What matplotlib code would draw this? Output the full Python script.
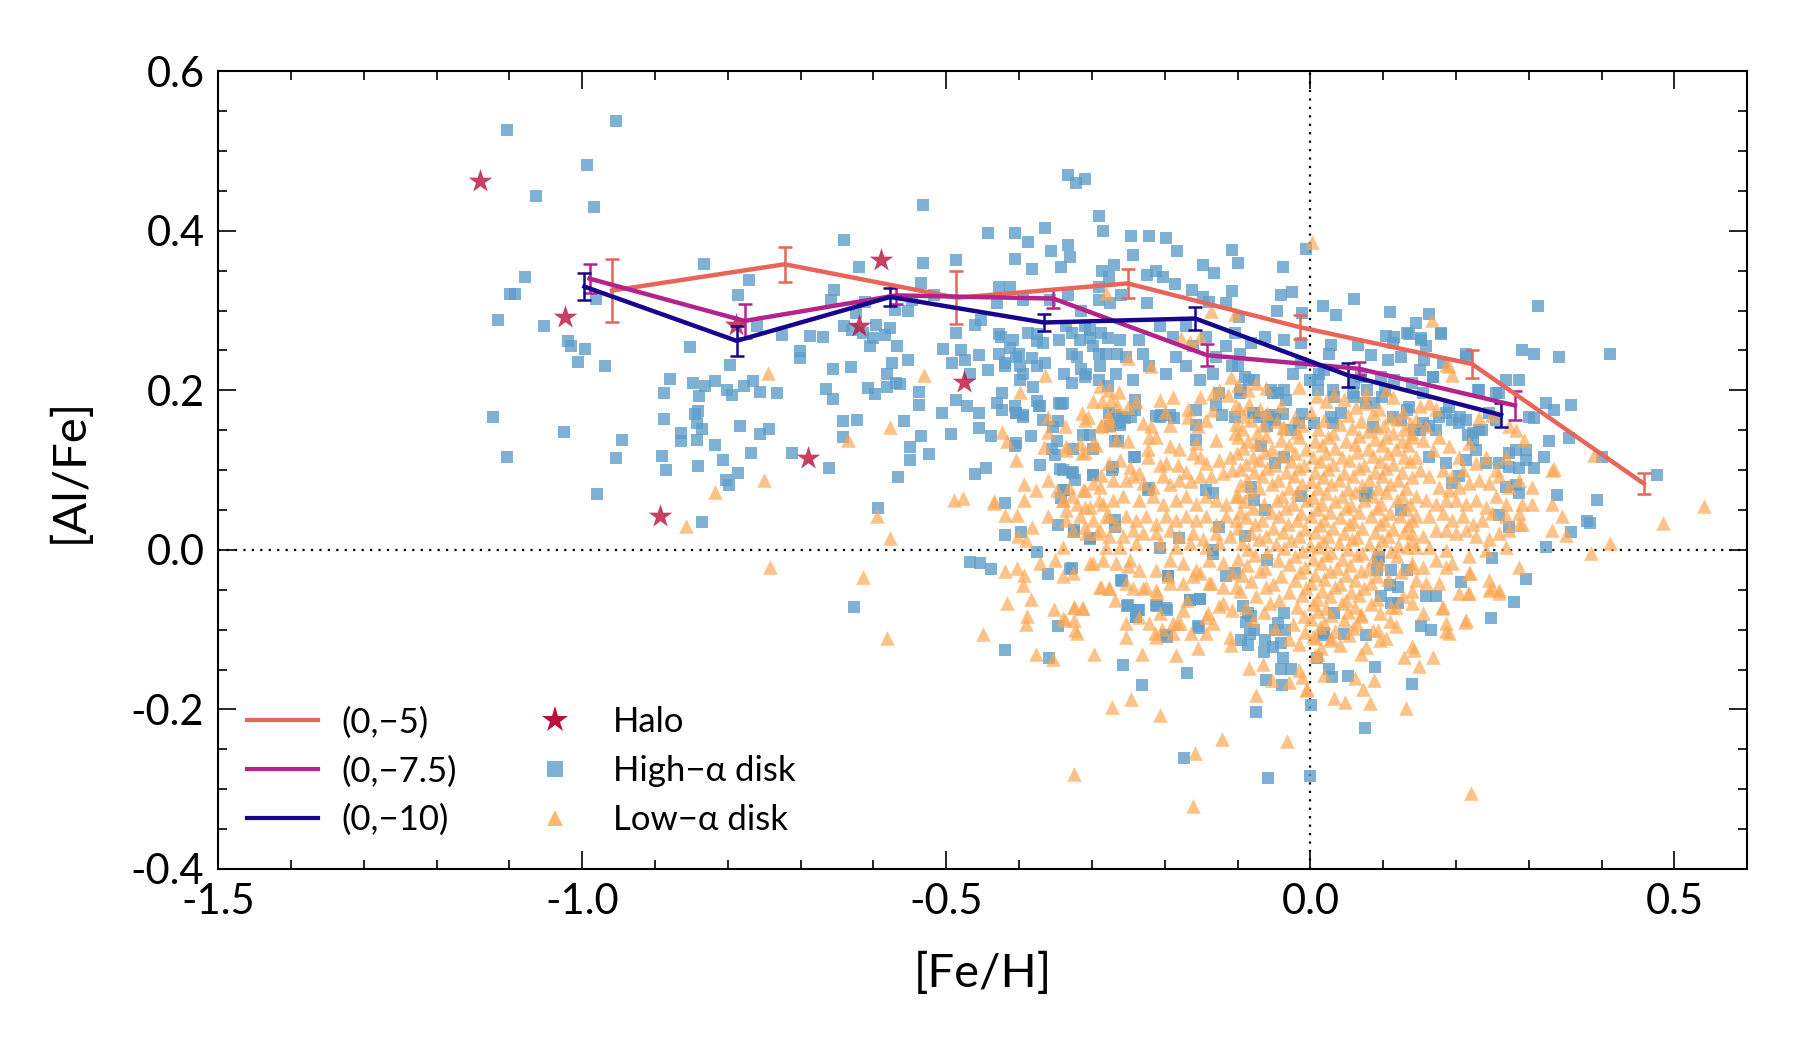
import matplotlib
matplotlib.use('Agg')
import matplotlib.pyplot as plt
from matplotlib.lines import Line2D
from matplotlib.ticker import MultipleLocator, FormatStrFormatter

plt.rcParams['font.family'] = ['Lato', 'DejaVu Sans']
plt.rcParams['axes.unicode_minus'] = False

# trend lines: [Fe/H] bin centres, mean [Al/Fe] and error, for each cut
feh_5 = [-0.959, -0.722, -0.486, -0.251, -0.014, 0.222, 0.458]
alfe_5 = [0.325, 0.358, 0.316, 0.334, 0.279, 0.233, 0.083]
err_5 = [0.039, 0.022, 0.033, 0.018, 0.015, 0.018, 0.013]

feh_75 = [-0.990, -0.777, -0.569, -0.353, -0.142, 0.067, 0.281]
alfe_75 = [0.340, 0.287, 0.319, 0.315, 0.244, 0.227, 0.181]
err_75 = [0.018, 0.021, 0.011, 0.012, 0.014, 0.008, 0.018]

feh_10 = [-0.997, -0.788, -0.577, -0.366, -0.158, 0.051, 0.262]
alfe_10 = [0.330, 0.262, 0.317, 0.285, 0.290, 0.219, 0.169]
err_10 = [0.017, 0.019, 0.011, 0.011, 0.014, 0.015, 0.015]

# halo stars
halo_feh = [-1.140, -1.023, -0.893, -0.789, -0.690, -0.620, -0.589, -0.476]
halo_alfe = [0.462, 0.292, 0.042, 0.282, 0.115, 0.281, 0.363, 0.210]

# high-alpha disk stars ([Fe/H], [Al/Fe])
high_alpha = [
    (-1.104, 0.526), (-0.953, 0.538), (-0.993, 0.482), (-1.064, 0.444), (-0.984, 0.430),
    (-1.078, 0.342), (-1.099, 0.321), (-1.092, 0.321), (-1.116, 0.288), (-1.052, 0.281),
    (-1.019, 0.262), (-1.015, 0.256), (-0.996, 0.252), (-1.006, 0.235), (-0.969, 0.230),
    (-0.981, 0.314), (-1.123, 0.166), (-1.103, 0.116), (-1.025, 0.148), (-0.945, 0.138),
    (-0.953, 0.115), (-0.980, 0.070),
    (-0.833, 0.358), (-0.771, 0.338), (-0.786, 0.319), (-0.852, 0.254), (-0.760, 0.280),
    (-0.726, 0.269), (-0.701, 0.249), (-0.701, 0.240), (-0.687, 0.268), (-0.797, 0.232),
    (-0.880, 0.214), (-0.888, 0.196), (-0.848, 0.209), (-0.832, 0.205), (-0.817, 0.212),
    (-0.839, 0.193), (-0.801, 0.201), (-0.794, 0.194), (-0.778, 0.206), (-0.765, 0.212),
    (-0.756, 0.198), (-0.732, 0.196), (-0.841, 0.174), (-0.845, 0.170), (-0.888, 0.164),
    (-0.865, 0.146), (-0.865, 0.136), (-0.843, 0.159), (-0.835, 0.151), (-0.842, 0.138),
    (-0.891, 0.118), (-0.885, 0.100), (-0.841, 0.105), (-0.806, 0.113), (-0.817, 0.132),
    (-0.784, 0.155), (-0.756, 0.145), (-0.743, 0.152), (-0.768, 0.122), (-0.803, 0.088),
    (-0.799, 0.081), (-0.786, 0.096), (-0.835, 0.035), (-0.712, 0.122), (-0.669, 0.267),
    (-0.661, 0.103), (-0.642, 0.161), (-0.622, 0.163), (-0.642, 0.142), (-0.558, 0.162),
    (-0.537, 0.198), (-0.537, 0.181), (-0.550, 0.129), (-0.550, 0.113), (-0.535, 0.143),
    (-0.524, 0.120), (-0.567, 0.091), (-0.594, 0.053), (-0.627, -0.071), (-0.506, 0.172),
    (-0.493, 0.145), (-0.471, 0.180), (-0.455, 0.153), (-0.446, 0.103), (-0.461, 0.095),
    (-0.438, 0.143), (-0.468, -0.015), (-0.454, -0.016), (-0.438, -0.024), (-0.665, 0.202),
    (-0.655, 0.189), (-0.608, 0.203), (-0.598, 0.195), (-0.582, 0.204), (-0.564, 0.208),
    (-0.532, 0.432), (-0.640, 0.388), (-0.620, 0.355), (-0.532, 0.359), (-0.487, 0.363),
    (-0.654, 0.326), (-0.658, 0.313), (-0.624, 0.297), (-0.611, 0.311), (-0.640, 0.280),
    (-0.630, 0.275), (-0.614, 0.272), (-0.600, 0.265), (-0.605, 0.255), (-0.597, 0.282),
    (-0.578, 0.278), (-0.584, 0.269), (-0.568, 0.255), (-0.571, 0.301), (-0.553, 0.299),
    (-0.547, 0.313), (-0.535, 0.334), (-0.517, 0.319), (-0.655, 0.227), (-0.631, 0.229),
    (-0.553, 0.238), (-0.574, 0.234), (-0.569, 0.209), (-0.581, 0.221),
    (-0.505, 0.252), (-0.492, 0.234), (-0.480, 0.251), (-0.486, 0.272), (-0.474, 0.238),
    (-0.468, 0.221), (-0.455, 0.244), (-0.443, 0.226), (-0.486, 0.188), (-0.455, 0.171),
    (-0.443, 0.397), (-0.405, 0.397), (-0.388, 0.386), (-0.365, 0.404), (-0.333, 0.382),
    (-0.356, 0.374), (-0.290, 0.419), (-0.285, 0.400), (-0.342, 0.355), (-0.330, 0.367),
    (-0.405, 0.364), (-0.382, 0.352), (-0.270, 0.357), (-0.286, 0.349),
    (-0.461, 0.282), (-0.452, 0.288), (-0.431, 0.309), (-0.413, 0.330), (-0.394, 0.313),
    (-0.425, 0.267), (-0.413, 0.253), (-0.400, 0.246), (-0.388, 0.272), (-0.376, 0.262),
    (-0.419, 0.234), (-0.394, 0.221), (-0.382, 0.240), (-0.364, 0.234),
    (-0.345, 0.263), (-0.327, 0.246), (-0.339, 0.221), (-0.315, 0.227), (-0.290, 0.246),
    (-0.278, 0.265), (-0.266, 0.246), (-0.357, 0.313), (-0.333, 0.320), (-0.315, 0.299),
    (-0.290, 0.313), (-0.275, 0.309), (-0.260, 0.320), (-0.327, 0.272), (-0.309, 0.280),
    (-0.287, 0.272), (-0.302, 0.265), (-0.309, 0.217), (-0.290, 0.213), (-0.327, 0.209),
    (-0.278, 0.205), (-0.431, 0.184), (-0.406, 0.180), (-0.376, 0.186), (-0.345, 0.184),
    (-0.406, 0.130),
    (-0.333, 0.470), (-0.322, 0.460), (-0.310, 0.465),
    (-0.246, 0.393), (-0.222, 0.394), (-0.198, 0.391), (-0.183, 0.375), (-0.244, 0.370),
    (-0.147, 0.357), (-0.132, 0.347), (-0.108, 0.376), (-0.099, 0.360), (-0.037, 0.354),
    (-0.006, 0.377), (-0.276, 0.342), (-0.290, 0.329),
    (-0.224, 0.344), (-0.212, 0.349), (-0.203, 0.342), (-0.186, 0.333), (-0.224, 0.309),
    (-0.162, 0.326), (-0.147, 0.317), (-0.139, 0.311), (-0.107, 0.324), (-0.116, 0.309),
    (-0.098, 0.292), (-0.046, 0.300), (-0.040, 0.319), (-0.025, 0.323), (-0.011, 0.297),
    (0.017, 0.306), (0.035, 0.294), (0.060, 0.314), (0.109, 0.298),
    (0.145, 0.284), (0.163, 0.296), (0.179, 0.271), (0.168, 0.217), (0.104, 0.268),
    (0.113, 0.259), (0.136, 0.271), (0.152, 0.263), (0.214, 0.242), (0.232, 0.200),
    (0.255, 0.196), (0.246, 0.171), (0.205, 0.167), (0.223, 0.146),
    (-0.427, 0.330), (-0.427, 0.271), (-0.408, 0.263), (-0.376, 0.271), (-0.367, 0.259),
    (-0.427, 0.246), (-0.404, 0.242), (-0.420, 0.230), (-0.399, 0.230), (-0.376, 0.230),
    (-0.424, 0.196), (-0.399, 0.213), (-0.381, 0.204), (-0.372, 0.180), (-0.404, 0.171),
    (-0.395, 0.167), (-0.367, 0.163), (-0.354, 0.154),
    (-0.335, 0.280), (-0.317, 0.263), (-0.303, 0.276), (-0.299, 0.255), (-0.321, 0.242),
    (-0.308, 0.221), (-0.289, 0.230), (-0.280, 0.246), (-0.262, 0.263), (-0.253, 0.242),
    (-0.267, 0.221), (-0.244, 0.213), (-0.230, 0.246), (-0.235, 0.263), (-0.221, 0.230),
    (-0.207, 0.280), (-0.189, 0.267), (-0.184, 0.242), (-0.198, 0.221), (-0.171, 0.230),
    (-0.161, 0.255), (-0.171, 0.280), (-0.152, 0.213), (-0.143, 0.267), (-0.129, 0.242),
    (-0.116, 0.255), (-0.107, 0.230), (-0.097, 0.246), (-0.084, 0.213), (-0.134, 0.221),
    (-0.125, 0.196), (-0.097, 0.196), (-0.079, 0.171), (-0.052, 0.196), (-0.033, 0.188),
    (-0.024, 0.221), (-0.001, 0.213), (0.012, 0.221), (0.026, 0.246), (0.031, 0.200),
    (0.058, 0.196), (0.076, 0.184), (0.099, 0.192), (0.113, 0.167), (0.136, 0.179),
    (0.154, 0.196), (0.177, 0.167), (0.191, 0.179), (0.214, 0.163), (0.232, 0.150),
    (-0.052, 0.167), (-0.015, 0.159), (0.031, 0.159), (0.086, 0.154), (0.150, 0.150),
    (-0.423, 0.175), (-0.404, 0.171), (-0.395, 0.169), (-0.404, 0.134), (-0.384, 0.143),
    (-0.373, 0.180), (-0.342, 0.183), (-0.347, 0.162), (-0.348, 0.136), (-0.355, 0.127),
    (-0.351, 0.119), (-0.371, 0.106), (-0.344, 0.101), (-0.327, 0.098), (-0.323, 0.088),
    (-0.298, 0.094), (-0.339, 0.075), (-0.342, 0.065), (-0.420, 0.059), (-0.420, 0.019),
    (-0.398, 0.023), (-0.347, 0.031), (-0.325, 0.023), (-0.303, 0.013), (-0.375, -0.003),
    (-0.361, -0.030), (-0.330, -0.024), (-0.420, -0.125), (-0.359, -0.135), (-0.347, -0.096),
    (-0.268, 0.029), (-0.252, -0.070), (-0.235, -0.076), (-0.240, -0.084), (-0.210, -0.070),
    (-0.197, -0.075), (-0.197, -0.109), (-0.257, -0.144), (-0.231, -0.169), (-0.170, -0.154),
    (-0.153, -0.098), (-0.166, -0.063), (-0.152, -0.062), (-0.134, -0.005), (-0.195, -0.033),
    (-0.259, -0.039), (-0.092, -0.070), (-0.082, -0.083), (-0.088, -0.090), (-0.083, -0.105),
    (-0.086, -0.119), (-0.064, -0.128), (-0.052, -0.122), (-0.048, -0.100), (-0.035, -0.100),
    (-0.038, -0.136), (-0.041, -0.149), (-0.026, -0.149), (-0.061, -0.163), (-0.039, -0.169),
    (-0.075, -0.203), (-0.173, -0.261), (-0.058, -0.286), (0.000, -0.284), (0.001, -0.194),
    (0.009, -0.136), (0.017, -0.107), (0.026, -0.149), (0.030, -0.159), (0.052, -0.158),
    (0.075, -0.223), (0.089, -0.147), (0.076, -0.107), (0.046, -0.105), (0.140, -0.168),
    (0.094, -0.009), (0.110, -0.044), (0.121, -0.067), (0.092, -0.025), (0.075, 0.067),
    (-0.130, 0.181), (-0.122, 0.169), (-0.104, 0.166), (-0.070, 0.167), (-0.054, 0.169),
    (-0.038, 0.170), (-0.011, 0.170), (-0.268, 0.169), (-0.259, 0.167), (-0.246, 0.166),
    (-0.212, 0.168), (-0.205, 0.169), (-0.222, 0.077), (-0.275, 0.155), (-0.262, 0.159),
    (-0.303, 0.144), (-0.268, 0.136), (-0.242, 0.116), (-0.272, 0.100),
    (0.312, 0.306), (0.412, 0.245), (0.401, 0.117), (0.394, 0.063), (0.384, 0.034),
    (0.476, 0.094),
    (-0.340, 0.184), (-0.276, 0.171), (-0.262, 0.157), (-0.255, 0.165), (-0.241, 0.175),
    (-0.241, 0.188), (-0.207, 0.166), (-0.193, 0.169), (-0.187, 0.165), (-0.157, 0.175),
    (-0.157, 0.157), (-0.157, 0.138), (-0.312, 0.144), (-0.326, 0.127), (-0.299, 0.127),
    (-0.264, 0.136), (-0.241, 0.117), (-0.340, 0.100), (-0.326, 0.096), (-0.299, 0.094),
    (-0.271, 0.104), (-0.223, 0.075), (-0.340, 0.075), (-0.269, 0.038), (-0.324, 0.025),
    (-0.303, 0.015), (-0.180, 0.015), (-0.207, 0.002), (-0.143, 0.075), (-0.134, 0.071),
    (-0.328, -0.023), (-0.260, -0.038), (-0.196, -0.033), (-0.134, 0.000), (-0.116, -0.033),
    (-0.251, -0.069), (-0.237, -0.075), (-0.239, -0.084), (-0.212, -0.069), (-0.198, -0.073),
    (-0.166, -0.063), (-0.152, -0.061), (-0.155, -0.096), (-0.198, -0.107), (-0.104, -0.029),
    (-0.125, 0.029),
    (-0.068, 0.130), (-0.049, 0.109), (-0.036, 0.117), (-0.081, 0.079), (-0.077, 0.063),
    (-0.063, 0.050), (-0.090, 0.017), (-0.059, -0.013), (-0.013, 0.067), (0.078, 0.071),
    (0.124, 0.050), (0.093, -0.013), (0.111, -0.025), (0.133, -0.025), (0.120, -0.046),
    (0.097, -0.058), (0.111, -0.067), (0.033, -0.079), (0.019, -0.104), (-0.036, -0.079),
    (-0.045, -0.092), (-0.086, -0.079), (-0.077, -0.100), (-0.063, -0.113), (-0.040, -0.117),
    (-0.095, -0.113), (-0.095, 0.201), (-0.077, 0.171), (-0.049, 0.163), (-0.036, 0.201),
    (0.010, 0.201), (0.033, 0.192), (0.060, 0.192), (0.078, 0.201), (0.102, 0.201),
    (0.088, 0.184), (0.124, 0.163), (0.133, 0.175), (0.143, 0.150), (-0.059, 0.155),
    (-0.027, 0.150), (0.005, 0.159), (0.028, 0.167), (0.042, 0.171),
    (-0.104, 0.272), (-0.081, 0.259), (-0.063, 0.267), (-0.036, 0.263), (-0.013, 0.259),
    (0.028, 0.257), (0.065, 0.257), (0.083, 0.244), (0.106, 0.238), (0.124, 0.242),
    (0.115, 0.267), (0.133, 0.272), (0.069, 0.217), (0.097, 0.217), (0.060, 0.209),
    (-0.100, 0.230), (-0.090, 0.217), (-0.077, 0.213), (-0.054, 0.201), (-0.045, 0.196),
    (-0.013, 0.234), (0.019, 0.226), (0.010, 0.213), (0.115, 0.213),
    (0.152, 0.265), (0.179, 0.272), (0.159, 0.255), (0.150, 0.226), (0.156, 0.238),
    (0.168, 0.217), (0.140, 0.209), (0.182, 0.234), (0.214, 0.246), (0.230, 0.200),
    (0.259, 0.196), (0.268, 0.213), (0.287, 0.213), (0.291, 0.251), (0.307, 0.246),
    (0.342, 0.242), (0.358, 0.182), (0.323, 0.184), (0.335, 0.175), (0.300, 0.167),
    (0.307, 0.165), (0.255, 0.163), (0.236, 0.150), (0.223, 0.138), (0.216, 0.144),
    (0.204, 0.159), (0.186, 0.171), (0.195, 0.163), (0.163, 0.155), (0.172, 0.150),
    (0.154, 0.159), (0.227, 0.125), (0.214, 0.113), (0.241, 0.109), (0.259, 0.109),
    (0.273, 0.121), (0.282, 0.125), (0.296, 0.125), (0.296, 0.113), (0.273, 0.104),
    (0.287, 0.102), (0.307, 0.102), (0.321, 0.117), (0.328, 0.136), (0.355, 0.140),
    (0.268, 0.079), (0.282, 0.081), (0.287, 0.071), (0.259, 0.044), (0.273, 0.029),
    (0.339, 0.069), (0.323, 0.004), (0.250, -0.010), (0.380, 0.036), (0.358, 0.023),
    (0.296, -0.036), (0.207, -0.040), (0.280, -0.065), (0.248, -0.086), (0.159, -0.058),
    (0.172, -0.058), (0.152, -0.096), (0.166, -0.100), (0.204, 0.092), (0.195, 0.084),
    (0.186, 0.109), (0.163, 0.117),
]

# low-alpha disk stars ([Fe/H], [Al/Fe])
low_alpha = [
    (0.002, 0.386),
    (-0.817, 0.072), (-0.751, 0.088), (-0.857, 0.030), (-0.635, 0.138), (-0.578, 0.154),
    (-0.595, 0.042), (-0.578, 0.015), (-0.742, -0.021), (-0.614, -0.034), (-0.581, -0.110),
    (-0.450, -0.105), (-0.490, 0.063), (-0.477, 0.065), (-0.435, 0.059), (-0.745, 0.222),
    (-0.530, 0.219),
    (-0.434, 0.061), (-0.420, 0.044), (-0.404, 0.113), (-0.402, 0.017), (-0.394, -0.044),
    (-0.383, -0.062), (-0.416, -0.066), (-0.420, -0.027), (-0.403, -0.023), (-0.393, -0.031),
    (-0.389, -0.083), (-0.390, -0.093), (-0.377, -0.131), (-0.353, -0.137), (-0.352, -0.074),
    (-0.340, -0.086), (-0.325, -0.072), (-0.314, -0.073), (-0.323, -0.101), (-0.325, -0.088),
    (-0.297, -0.130), (-0.272, -0.197), (-0.247, -0.187), (-0.206, -0.207), (-0.231, -0.130),
    (-0.213, -0.104), (-0.204, -0.099), (-0.184, -0.132), (-0.154, -0.123), (-0.164, -0.104),
    (-0.159, -0.254), (-0.121, -0.237), (-0.032, -0.240), (-0.161, -0.321), (-0.325, -0.281),
    (-0.302, -0.016), (-0.288, -0.047), (-0.277, -0.048), (-0.250, -0.020), (-0.244, -0.048),
    (-0.230, -0.048), (-0.211, -0.054), (-0.196, -0.033), (-0.183, -0.092), (-0.179, -0.092),
    (-0.170, -0.063), (-0.141, -0.079), (-0.125, -0.070), (-0.151, -0.029), (-0.136, -0.042),
    (-0.120, -0.067), (-0.109, -0.119), (-0.084, -0.148), (-0.074, -0.182), (-0.065, -0.143),
    (-0.053, -0.163), (-0.029, -0.166), (-0.016, -0.150), (-0.006, -0.176), (0.006, -0.132),
    (0.029, -0.110), (0.033, -0.186), (0.047, -0.191), (0.061, -0.160), (0.069, -0.130),
    (0.082, -0.192), (0.088, -0.163), (0.118, -0.096), (0.129, -0.134), (0.132, -0.198),
    (0.111, -0.071), (0.093, -0.100), (0.096, -0.113), (0.069, -0.080),
    (-0.424, 0.148), (-0.416, 0.136), (-0.393, 0.082), (-0.377, 0.075), (-0.361, 0.088),
    (-0.348, 0.075), (-0.340, 0.063), (-0.327, 0.067), (-0.309, 0.075), (-0.366, 0.129),
    (-0.335, 0.125), (-0.314, 0.121), (-0.309, 0.163), (-0.288, 0.157), (-0.277, 0.163),
    (-0.298, 0.134), (-0.314, 0.171), (-0.361, 0.167), (-0.361, 0.148), (-0.393, 0.063),
    (-0.403, 0.044), (-0.382, 0.029), (-0.361, 0.042), (-0.335, 0.050), (-0.309, 0.054),
    (-0.290, 0.063), (-0.277, 0.042), (-0.293, 0.021), (-0.309, 0.029), (-0.340, 0.004),
    (-0.351, -0.013), (-0.372, -0.017), (-0.390, 0.012),
    (0.167, 0.288), (0.186, 0.232), (0.250, 0.169), (0.335, 0.101), (0.390, 0.119),
    (0.412, 0.009), (0.385, -0.004), (0.484, 0.034), (0.540, 0.055), (0.259, -0.050),
    (0.249, -0.048), (0.219, -0.029), (0.216, -0.054), (0.213, -0.090), (0.186, -0.102),
    (0.181, -0.073), (0.168, -0.134), (0.149, -0.146), (0.143, -0.125), (0.072, -0.174),
    (0.019, -0.157), (0.006, -0.111), (0.010, -0.130), (-0.004, -0.174), (-0.011, -0.159),
    (0.220, -0.305),
    (-0.280, 0.322), (-0.177, 0.265), (-0.166, 0.261), (-0.152, 0.267), (-0.136, 0.299),
    (-0.104, 0.296), (-0.365, 0.219), (-0.399, 0.198), (-0.134, 0.196), (-0.038, 0.154),
    (-0.015, 0.204), (0.076, 0.196), (0.104, 0.200), (0.113, 0.192),
    (-0.251, 0.240), (-0.219, 0.231), (-0.289, 0.205), (-0.277, 0.200), (-0.263, 0.198),
    (-0.299, 0.186), (-0.286, 0.187), (-0.274, 0.188), (-0.266, 0.182), (-0.251, 0.179),
    (-0.240, 0.186), (-0.207, 0.188), (-0.189, 0.192), (-0.168, 0.176), (-0.152, 0.192),
    (-0.134, 0.175), (-0.109, 0.217), (-0.125, 0.201), (-0.113, 0.194), (-0.102, 0.182),
    (-0.305, 0.166), (-0.287, 0.155), (-0.276, 0.157), (-0.278, 0.169), (-0.230, 0.159),
    (-0.219, 0.155), (-0.200, 0.173), (-0.193, 0.157), (-0.168, 0.167), (-0.155, 0.155),
    (-0.143, 0.163), (-0.337, 0.155), (-0.335, 0.130), (-0.317, 0.134), (-0.310, 0.123),
    (-0.294, 0.132), (-0.267, 0.138), (-0.251, 0.136), (-0.221, 0.142), (-0.212, 0.142),
    (-0.223, 0.127), (-0.193, 0.130), (-0.180, 0.127), (-0.157, 0.134), (-0.129, 0.138),
    (-0.104, 0.146), (-0.161, 0.121), (-0.152, 0.117), (-0.143, 0.109), (-0.125, 0.113),
    (-0.111, 0.117), (-0.276, 0.109), (-0.262, 0.113), (-0.248, 0.104), (-0.235, 0.096),
    (-0.223, 0.117), (-0.207, 0.106), (-0.198, 0.109), (-0.182, 0.106), (-0.171, 0.098),
    (-0.287, 0.094), (-0.299, 0.084), (-0.289, 0.079), (-0.271, 0.088), (-0.253, 0.088),
    (-0.244, 0.092), (-0.230, 0.084), (-0.216, 0.079), (-0.203, 0.092), (-0.193, 0.082),
    (-0.180, 0.088), (-0.164, 0.086), (-0.152, 0.092), (-0.136, 0.092), (-0.120, 0.096),
    (-0.107, 0.100), (-0.331, 0.079), (-0.312, 0.075), (-0.340, 0.063), (-0.321, 0.058),
    (-0.303, 0.054), (-0.285, 0.058), (-0.271, 0.063), (-0.257, 0.067), (-0.235, 0.063),
    (-0.216, 0.067), (-0.203, 0.058), (-0.184, 0.063), (-0.171, 0.067), (-0.157, 0.058),
    (-0.143, 0.067), (-0.129, 0.063), (-0.116, 0.058), (-0.102, 0.067), (-0.335, 0.038),
    (-0.317, 0.042), (-0.299, 0.038), (-0.280, 0.042), (-0.267, 0.033), (-0.253, 0.042),
    (-0.239, 0.038), (-0.226, 0.042), (-0.212, 0.033), (-0.198, 0.042), (-0.184, 0.038),
    (-0.171, 0.042), (-0.157, 0.038), (-0.143, 0.042), (-0.129, 0.033), (-0.116, 0.042),
    (-0.102, 0.038), (-0.326, 0.025), (-0.308, 0.021), (-0.289, 0.025), (-0.276, 0.017),
    (-0.257, 0.017), (-0.244, 0.025), (-0.230, 0.021), (-0.212, 0.021), (-0.193, 0.025),
    (-0.180, 0.017), (-0.161, 0.021), (-0.148, 0.013), (-0.129, 0.021), (-0.111, 0.017),
    (-0.280, 0.004), (-0.262, 0.004), (-0.239, 0.008), (-0.207, 0.008), (-0.184, 0.004),
    (-0.166, 0.008), (-0.143, 0.004), (-0.125, 0.008), (-0.299, -0.017), (-0.285, -0.013),
    (-0.267, -0.017), (-0.248, -0.013), (-0.235, -0.025), (-0.212, -0.025), (-0.193, -0.013),
    (-0.175, -0.017), (-0.157, -0.025), (-0.139, -0.013), (-0.120, -0.017), (-0.107, -0.029),
    (-0.340, -0.033), (-0.326, -0.029), (-0.289, -0.046), (-0.276, -0.048), (-0.253, -0.042),
    (-0.226, -0.046), (-0.212, -0.050), (-0.193, -0.042), (-0.175, -0.042), (-0.161, -0.033),
    (-0.139, -0.042), (-0.120, -0.046), (-0.102, -0.046), (-0.324, -0.071), (-0.312, -0.073),
    (-0.269, -0.063), (-0.253, -0.092), (-0.235, -0.084), (-0.221, -0.092), (-0.207, -0.079),
    (-0.189, -0.092), (-0.175, -0.075), (-0.143, -0.084), (-0.134, -0.092), (-0.107, -0.075),
    (-0.337, -0.088), (-0.321, -0.104), (-0.253, -0.109), (-0.212, -0.109), (-0.189, -0.104),
    (-0.143, -0.104), (-0.111, -0.109),
    (-0.100, 0.207), (-0.086, 0.201), (-0.074, 0.209), (-0.061, 0.203),
    (0.009, 0.193), (0.021, 0.187), (0.033, 0.195), (0.046, 0.189),
    (-0.098, 0.178), (-0.084, 0.183), (-0.069, 0.176), (-0.041, 0.182), (0.062, 0.179),
    (0.077, 0.184), (0.094, 0.177),
    (-0.091, 0.168), (-0.059, 0.172), (-0.021, 0.166), (0.001, 0.173), (0.051, 0.169),
    (0.086, 0.171), (0.109, 0.166), (0.127, 0.173),
    (-0.102, 0.158), (-0.081, 0.163), (-0.065, 0.156), (-0.046, 0.161), (-0.011, 0.157),
    (0.019, 0.163), (0.041, 0.158), (0.069, 0.162), (0.101, 0.157), (0.119, 0.164),
    (0.137, 0.159),
    (-0.094, 0.152), (-0.073, 0.147), (-0.036, 0.153), (-0.019, 0.148), (0.011, 0.151),
    (0.031, 0.146), (0.057, 0.153), (0.079, 0.149), (0.091, 0.154), (0.113, 0.147),
    (0.129, 0.151),
    (-0.099, 0.141), (-0.086, 0.137), (-0.061, 0.143), (-0.041, 0.138), (-0.016, 0.142),
    (0.006, 0.136), (0.024, 0.141), (0.049, 0.137), (0.067, 0.143), (0.089, 0.139),
    (0.104, 0.142), (0.126, 0.136), (0.139, 0.141),
    (-0.093, 0.128), (-0.074, 0.133), (-0.053, 0.127), (-0.029, 0.131), (-0.006, 0.126),
    (0.016, 0.132), (0.034, 0.128), (0.061, 0.133), (0.079, 0.127), (0.099, 0.131),
    (0.117, 0.126), (0.134, 0.132),
    (-0.101, 0.121), (-0.079, 0.117), (-0.063, 0.123), (-0.039, 0.118), (-0.021, 0.122),
    (0.003, 0.116), (0.021, 0.121), (0.043, 0.117), (0.064, 0.123), (0.086, 0.118),
    (0.107, 0.122), (0.129, 0.117),
    (-0.089, 0.108), (-0.071, 0.113), (-0.049, 0.107), (-0.027, 0.112), (-0.009, 0.106),
    (0.013, 0.111), (0.031, 0.108), (0.053, 0.113), (0.074, 0.107), (0.096, 0.112),
    (0.114, 0.108), (0.137, 0.111),
    (-0.097, 0.101), (-0.077, 0.097), (-0.059, 0.102), (-0.034, 0.098), (-0.016, 0.103),
    (0.006, 0.097), (0.024, 0.101), (0.046, 0.096), (0.067, 0.102), (0.089, 0.098),
    (0.104, 0.103), (0.126, 0.097),
    (-0.087, 0.088), (-0.067, 0.093), (-0.044, 0.087), (-0.023, 0.092), (0.001, 0.086),
    (0.017, 0.091), (0.039, 0.088), (0.059, 0.093), (0.081, 0.087), (0.099, 0.092),
    (0.121, 0.088), (0.139, 0.091),
    (-0.096, 0.081), (-0.071, 0.077), (-0.053, 0.082), (-0.029, 0.078), (-0.011, 0.083),
    (0.011, 0.077), (0.029, 0.082), (0.051, 0.076), (0.071, 0.081), (0.093, 0.078),
    (0.109, 0.083), (0.131, 0.077),
    (-0.099, 0.068), (-0.083, 0.073), (-0.039, 0.067), (-0.019, 0.072), (0.003, 0.066),
    (0.021, 0.071), (0.043, 0.068), (0.061, 0.073), (0.086, 0.067), (0.104, 0.072),
    (0.126, 0.068),
    (-0.091, 0.061), (-0.064, 0.057), (-0.046, 0.062), (-0.024, 0.058), (-0.004, 0.063),
    (0.016, 0.057), (0.034, 0.061), (0.056, 0.056), (0.074, 0.062), (0.097, 0.058),
    (0.119, 0.063), (0.137, 0.057),
    (-0.097, 0.048), (-0.079, 0.053), (-0.054, 0.047), (-0.033, 0.052), (-0.013, 0.046),
    (0.009, 0.051), (0.027, 0.048), (0.049, 0.053), (0.067, 0.047), (0.091, 0.052),
    (0.109, 0.046), (0.131, 0.051),
    (-0.089, 0.041), (-0.067, 0.037), (-0.043, 0.042), (-0.019, 0.038), (0.001, 0.043),
    (0.019, 0.037), (0.041, 0.041), (0.059, 0.036), (0.083, 0.042), (0.101, 0.038),
    (0.123, 0.043), (0.139, 0.037),
    (-0.099, 0.028), (-0.076, 0.033), (-0.051, 0.027), (-0.031, 0.032), (-0.007, 0.026),
    (0.013, 0.031), (0.031, 0.028), (0.053, 0.033), (0.071, 0.027), (0.096, 0.032),
    (0.114, 0.026), (0.134, 0.031),
    (-0.081, 0.021), (-0.061, 0.017), (-0.037, 0.022), (-0.016, 0.018), (0.006, 0.023),
    (0.024, 0.017), (0.046, 0.021), (0.064, 0.016), (0.089, 0.022), (0.107, 0.018),
    (0.129, 0.023),
    (-0.094, 0.008), (-0.071, 0.013), (-0.047, 0.007), (-0.026, 0.012), (-0.001, 0.006),
    (0.017, 0.011), (0.039, 0.008), (0.057, 0.013), (0.081, 0.007), (0.099, 0.012),
    (0.121, 0.006), (0.139, 0.011),
    (-0.086, 0.001), (-0.059, -0.003), (-0.036, 0.002), (-0.011, -0.002), (0.011, 0.003),
    (0.029, -0.003), (0.051, 0.001), (0.071, -0.004), (0.093, 0.002), (0.111, -0.002),
    (0.133, 0.003),
    (-0.099, -0.012), (-0.076, -0.007), (-0.044, -0.013), (-0.021, -0.008), (0.003, -0.012),
    (0.021, -0.007), (0.043, -0.011), (0.064, -0.006), (0.086, -0.012), (0.119, -0.008),
    (-0.087, -0.019), (-0.063, -0.023), (-0.029, -0.018), (-0.007, -0.022), (0.014, -0.017),
    (0.036, -0.023), (0.054, -0.019), (0.079, -0.024), (0.097, -0.018), (0.139, -0.021),
    (-0.094, -0.032), (-0.069, -0.027), (-0.041, -0.033), (-0.014, -0.028), (0.006, -0.032),
    (0.027, -0.027), (0.049, -0.031), (0.069, -0.026), (0.091, -0.033), (0.124, -0.028),
    (-0.081, -0.039), (-0.051, -0.043), (-0.021, -0.038), (0.001, -0.042), (0.019, -0.037),
    (0.041, -0.043), (0.061, -0.038), (0.083, -0.042), (0.107, -0.037),
    (-0.097, -0.052), (-0.061, -0.047), (-0.029, -0.053), (-0.006, -0.048), (0.016, -0.052),
    (0.034, -0.047), (0.056, -0.053), (0.074, -0.048), (0.139, -0.051),
    (-0.074, -0.058), (-0.043, -0.063), (-0.011, -0.057), (0.009, -0.062), (0.027, -0.058),
    (0.049, -0.063), (0.067, -0.057), (0.091, -0.061), (0.127, -0.058),
    (-0.089, -0.072), (-0.056, -0.067), (-0.019, -0.071), (0.003, -0.068), (0.021, -0.073),
    (0.043, -0.067), (0.061, -0.072), (0.083, -0.068), (0.117, -0.071),
    (-0.064, -0.078), (-0.009, -0.083), (0.011, -0.077), (0.029, -0.082), (0.051, -0.078),
    (0.069, -0.083), (0.096, -0.079),
    (-0.079, -0.088), (-0.024, -0.093), (0.001, -0.087), (0.019, -0.092), (0.046, -0.088),
    (0.064, -0.093), (0.109, -0.089),
    (-0.049, -0.098), (-0.007, -0.103), (0.013, -0.097), (0.034, -0.102), (0.059, -0.098),
    (0.086, -0.101),
    (-0.029, -0.112), (0.004, -0.108), (0.027, -0.113), (0.053, -0.107), (0.104, -0.111),
    (-0.016, -0.118), (0.014, -0.123), (0.041, -0.119), (0.076, -0.122),
    (0.191, 0.230), (0.195, 0.219), (0.163, 0.184), (0.150, 0.180), (0.172, 0.177),
    (0.145, 0.163), (0.159, 0.155), (0.140, 0.146), (0.154, 0.138), (0.177, 0.142),
    (0.191, 0.130), (0.168, 0.125), (0.145, 0.117), (0.204, 0.117), (0.218, 0.134),
    (0.227, 0.109), (0.241, 0.117), (0.255, 0.100), (0.268, 0.117), (0.282, 0.150),
    (0.294, 0.138), (0.273, 0.155), (0.232, 0.165),
    (0.150, 0.100), (0.163, 0.092), (0.182, 0.100), (0.195, 0.092), (0.209, 0.100),
    (0.177, 0.079), (0.191, 0.075), (0.204, 0.079), (0.218, 0.084), (0.232, 0.088),
    (0.246, 0.084), (0.259, 0.092), (0.273, 0.079), (0.287, 0.088), (0.305, 0.079),
    (0.332, 0.100),
    (0.145, 0.067), (0.159, 0.063), (0.172, 0.058), (0.186, 0.063), (0.200, 0.063),
    (0.214, 0.058), (0.227, 0.063), (0.241, 0.054), (0.255, 0.067), (0.268, 0.058),
    (0.291, 0.058), (0.305, 0.058),
    (0.145, 0.042), (0.163, 0.042), (0.182, 0.046), (0.195, 0.038), (0.209, 0.042),
    (0.223, 0.033), (0.236, 0.038), (0.250, 0.046), (0.268, 0.042), (0.287, 0.046),
    (0.291, 0.033), (0.332, 0.058), (0.346, 0.042),
    (0.140, 0.021), (0.154, 0.017), (0.172, 0.025), (0.186, 0.025), (0.200, 0.021),
    (0.214, 0.025), (0.227, 0.017), (0.246, 0.013), (0.259, 0.021), (0.273, 0.025),
    (0.287, 0.033), (0.332, 0.025), (0.351, 0.019),
    (0.145, 0.004), (0.163, 0.004), (0.186, 0.000), (0.218, -0.008), (0.241, 0.000),
    (0.268, 0.004),
    (0.140, -0.017), (0.154, -0.021), (0.172, -0.013), (0.186, -0.021), (0.195, -0.017),
    (0.287, -0.021), (0.218, -0.029), (0.246, -0.038),
    (0.145, -0.038), (0.159, -0.042), (0.177, -0.042), (0.204, -0.054), (0.218, -0.054),
    (0.259, -0.054), (0.246, -0.050),
    (0.140, -0.067), (0.182, -0.071), (0.154, -0.079), (0.186, -0.092), (0.214, -0.088),
    (0.191, -0.104), (0.140, -0.121),
]

high_feh = [p[0] for p in high_alpha]
high_alfe = [p[1] for p in high_alpha]
low_feh = [p[0] for p in low_alpha]
low_alfe = [p[1] for p in low_alpha]

c_red = '#e8655a'
c_mag = '#b4238c'
c_navy = '#17068c'
c_halo = '#b8123a'
c_blue = '#5f9ecb'
c_orange = '#fca650'

fig = plt.figure(figsize=(18, 10.5), dpi=100)
ax = fig.add_axes([0.1212, 0.1724, 0.8495, 0.7598])

ax.axhline(0, color='black', lw=1.6, ls=(0, (1, 2.8)), zorder=1)
ax.axvline(0, color='black', lw=1.6, ls=(0, (1, 2.8)), zorder=1)

ax.scatter(high_feh, high_alfe, marker='s', s=64, color=c_blue, alpha=0.8,
           linewidths=0, zorder=2)
ax.scatter(low_feh, low_alfe, marker='^', s=110, color=c_orange, alpha=0.68,
           linewidths=0, zorder=3)
ax.scatter(halo_feh, halo_alfe, marker='*', s=320, color=c_halo, alpha=0.8,
           linewidths=0, zorder=4)

for x, y, e, c in [(feh_5, alfe_5, err_5, c_red),
                   (feh_75, alfe_75, err_75, c_mag),
                   (feh_10, alfe_10, err_10, c_navy)]:
    ax.errorbar(x, y, yerr=e, color=c, lw=3.2, elinewidth=1.8, capsize=5,
                capthick=1.8, zorder=5)

ax.set_xlim(-1.5, 0.6)
ax.set_ylim(-0.4, 0.6)
ax.xaxis.set_major_locator(MultipleLocator(0.5))
ax.xaxis.set_minor_locator(MultipleLocator(0.1))
ax.yaxis.set_major_locator(MultipleLocator(0.2))
ax.yaxis.set_minor_locator(MultipleLocator(0.05))
ax.xaxis.set_major_formatter(FormatStrFormatter('%.1f'))
ax.yaxis.set_major_formatter(FormatStrFormatter('%.1f'))
ax.tick_params(which='both', direction='in', top=True, right=True, width=1.2)
ax.tick_params(which='major', length=13, labelsize=30, pad=10)
ax.tick_params(which='minor', length=6.5)
for sp in ax.spines.values():
    sp.set_linewidth(1.5)

ax.set_xlabel('[Fe/H]', fontsize=34, labelpad=22)
ax.set_ylabel('[Al/Fe]', fontsize=34, labelpad=29)

handles = [
    Line2D([], [], color=c_red, lw=3),
    Line2D([], [], color=c_mag, lw=3),
    Line2D([], [], color=c_navy, lw=3),
    Line2D([], [], ls='none', marker='*', ms=20, color=c_halo, mew=0),
    Line2D([], [], ls='none', marker='s', ms=11, color=c_blue, alpha=0.8, mew=0),
    Line2D([], [], ls='none', marker='^', ms=12, color=c_orange, alpha=0.8, mew=0),
]
labels = ['(0,\u22125)', '(0,\u22127.5)', '(0,\u221210)',
          'Halo', 'High\u2212\u03b1 disk', 'Low\u2212\u03b1 disk']
ax.legend(handles, labels, ncol=2, loc='upper left', bbox_to_anchor=(0.019, 0.204),
          frameon=False, fontsize=25, borderpad=0, borderaxespad=0,
          handlelength=2.05, handletextpad=0.65, labelspacing=0.48,
          columnspacing=1.8)

fig.savefig('out.png', dpi=100)
